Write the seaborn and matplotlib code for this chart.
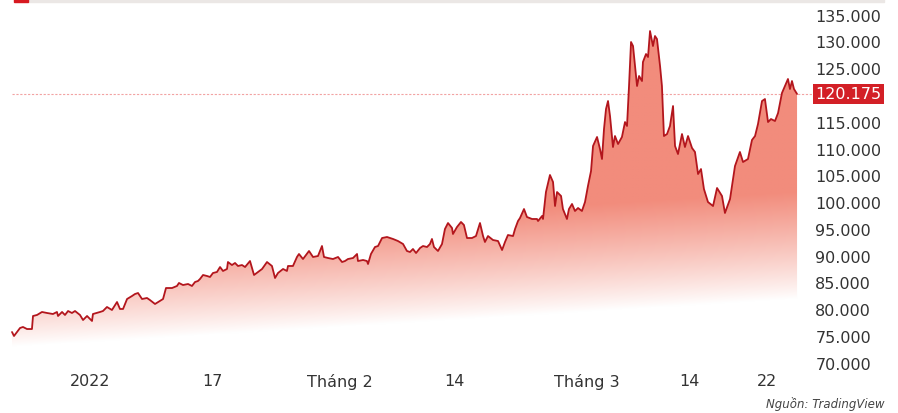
import numpy as np
import matplotlib.pyplot as plt
import seaborn as sns
from matplotlib.patches import Rectangle

# ----------------------------
# DATA
# t = trading sessions counted from 3 Jan 2022
# ----------------------------
t = [-6.61, -6.44, -5.93, -5.68, -5.34, -4.92, -4.83, -4.49, -4.07, -3.64,
     -3.14, -2.80, -2.71, -2.37, -2.12, -1.86, -1.53, -1.27, -0.85, -0.59,
     -0.25, 0.17, 0.25, 0.85, 1.10, 1.44, 1.86, 2.29, 2.54, 2.80,
     3.14, 3.56, 3.81, 4.07, 4.41, 4.83, 5.08, 5.51, 5.93, 6.19,
     6.44, 6.95, 7.37, 7.54, 7.88, 8.31, 8.64, 8.90, 9.15, 9.32,
     9.58, 9.92, 10.17, 10.42, 10.76, 11.02, 11.27, 11.61, 11.69, 12.03,
     12.29, 12.54, 12.88, 13.14, 13.56, 13.90, 14.24, 14.58, 15.00, 15.42,
     15.68, 15.93, 16.36, 16.69, 16.78, 17.20, 17.54, 17.71, 18.05, 18.56,
     18.90, 19.32, 19.66, 19.83, 20.17, 20.59, 21.02, 21.36, 21.61, 21.86,
     22.29, 22.63, 22.71, 23.14, 23.47, 23.56, 23.81, 24.15, 24.41, 24.75,
     25.17, 25.42, 25.68, 26.10, 26.53, 26.86, 27.12, 27.37, 27.63, 27.97,
     28.22, 28.56, 28.81, 28.98, 29.15, 29.49, 29.83, 30.08, 30.34, 30.68,
     30.76, 31.10, 31.44, 31.69, 31.95, 32.37, 32.71, 33.05, 33.31, 33.47,
     33.73, 34.15, 34.58, 34.92, 35.17, 35.42, 35.85, 36.02, 36.27, 36.44,
     36.78, 37.03, 37.46, 37.88, 37.97, 38.31, 38.39, 38.64, 38.98, 39.24,
     39.41, 39.58, 39.92, 40.08, 40.42, 40.59, 40.85, 41.10, 41.36, 41.69,
     41.95, 42.20, 42.46, 42.63, 42.97, 43.22, 43.39, 43.56, 43.73, 43.90,
     44.07, 44.32, 44.49, 44.75, 45.08, 45.34, 45.51, 45.68, 45.85, 46.02,
     46.19, 46.36, 46.53, 46.78, 46.86, 47.12, 47.29, 47.46, 47.71, 47.88,
     48.05, 48.31, 48.47, 48.64, 48.90, 49.15, 49.41, 49.58, 49.83, 50.17,
     50.42, 50.68, 51.02, 51.27, 51.53, 51.78, 52.03, 52.37, 52.80, 53.14,
     53.56, 53.81, 54.24, 54.66, 55.08, 55.34, 55.76, 56.10, 56.36, 56.61,
     56.95, 57.20, 57.46, 57.71, 58.05, 58.31, 58.64, 58.90, 59.15, 59.32,
     59.49, 59.66, 59.92]

price = [75.76, 75.02, 76.51, 76.70, 76.32, 76.32, 78.75, 78.94, 79.50, 79.31,
         79.12, 79.50, 78.75, 79.50, 78.94, 79.68, 79.31, 79.68, 78.94, 78.00,
         78.75, 77.82, 79.12, 79.50, 79.68, 80.43, 79.87, 81.36, 80.06, 80.06,
         81.92, 82.48, 82.85, 83.04, 81.92, 82.11, 81.73, 80.99, 81.55, 81.92,
         83.97, 83.97, 84.35, 84.91, 84.53, 84.72, 84.35, 85.09, 85.28, 85.65,
         86.40, 86.21, 86.03, 86.77, 86.96, 87.89, 87.15, 87.52, 88.82, 88.26,
         88.64, 88.08, 88.26, 87.89, 89.01, 86.40, 86.96, 87.52, 88.82, 88.08,
         85.84, 86.77, 87.52, 87.15, 88.08, 88.08, 89.76, 90.32, 89.38, 90.88,
         89.76, 89.94, 91.81, 89.76, 89.57, 89.38, 89.76, 88.82, 89.01, 89.38,
         89.57, 90.32, 89.01, 89.20, 89.01, 88.45, 90.32, 91.62, 91.81, 93.30,
         93.49, 93.30, 93.12, 92.74, 92.18, 90.88, 90.69, 91.25, 90.50, 91.44,
         91.81, 91.62, 92.18, 93.12, 91.62, 90.88, 92.18, 94.98, 96.10, 95.17,
         94.05, 95.35, 96.29, 95.73, 93.30, 93.30, 93.67, 96.10, 93.67, 92.56,
         93.67, 92.93, 92.74, 91.06, 92.56, 93.86, 93.67, 94.98, 96.47, 97.03,
         98.71, 97.22, 96.85, 96.85, 96.47, 97.41, 96.85, 101.88, 105.06, 103.75,
         99.27, 101.88, 101.14, 98.71, 96.85, 98.71, 99.65, 98.34, 98.90, 98.34,
         100.02, 103.00, 105.80, 110.47, 112.15, 109.91, 108.04, 113.64, 117.37, 118.86,
         116.06, 110.28, 112.33, 110.84, 112.15, 114.94, 114.20, 121.66, 129.87, 129.12,
         125.39, 121.66, 123.53, 122.59, 126.14, 127.63, 127.07, 131.92, 129.12, 130.99,
         130.43, 125.39, 121.66, 112.33, 112.70, 114.20, 117.93, 110.47, 108.97, 112.70,
         110.28, 112.33, 110.09, 109.35, 105.24, 106.17, 102.44, 100.02, 99.27, 102.63,
         101.14, 97.97, 100.58, 106.73, 109.35, 107.48, 108.04, 111.59, 112.33, 114.57,
         118.86, 119.23, 114.94, 115.50, 115.13, 116.62, 120.35, 121.66, 122.97, 121.10,
         122.59, 121.10, 120.175]

last_price = 120.175
y_ticks = [70, 75, 80, 85, 90, 95, 100, 105, 110, 115, 125, 130, 135]
x_tick_pos = [0, 10.4, 21.2, 30.9, 42.1, 50.8, 57.4]
x_tick_labels = ["2022", "17", "Tháng 2", "14", "Tháng 3", "14", "22"]

# ----------------------------
# STYLE
# ----------------------------
sns.set_style("white")
plt.rcParams["font.family"] = ["DejaVu Sans"]

fig = plt.figure(figsize=(8.98, 4.14), dpi=100)
ax = fig.add_axes([10 / 898, 44 / 414, 790 / 898, 360 / 414])

x0, x1 = -6.78, 60.17
y0, y1 = 68.86, 136.03
ax.set_xlim(x0, x1)
ax.set_ylim(y0, y1)

# gradient fill under the line (fades out towards a slanted bottom edge)
gx = np.linspace(x0, x1, 800)
gy = np.linspace(y0, y1, 400)
X, Y = np.meshgrid(gx, gy)
fade = 73 + (X - x0) * 9 / (x1 - x0)
a = np.clip((Y - fade) / 20, 0, 1) ** 0.9
top = np.array([242, 140, 124]) / 255
img = 1 - a[..., None] * (1 - top)
im = ax.imshow(img, extent=[x0, x1, y0, y1], origin="lower", aspect="auto",
               zorder=1, interpolation="bilinear")
poly = ax.fill_between(t, price, y0, facecolor="none", edgecolor="none")
im.set_clip_path(poly.get_paths()[0], transform=ax.transData)

# price line
sns.lineplot(x=t, y=price, ax=ax, color="#b3161d", linewidth=1.3, zorder=3)

# last price marker line + label
ax.axhline(last_price, xmin=0.002, xmax=1.015, color="#f2a3a3", lw=0.8,
           ls=(0, (2, 1.5)), clip_on=False, zorder=0.5)
ax.text(1.019, last_price, f"{last_price:.3f}", transform=ax.get_yaxis_transform(),
        ha="left", va="center", color="white", fontsize=11.5,
        bbox=dict(boxstyle="square,pad=0.15", fc="#d31f26", ec="none"))

# axes
ax.yaxis.tick_right()
ax.set_yticks(y_ticks)
ax.set_yticklabels([f"{v:.3f}" for v in y_ticks])
ax.set_xticks(x_tick_pos)
ax.set_xticklabels(x_tick_labels)
ax.tick_params(axis="y", length=0, pad=11, labelsize=11.5, labelcolor="#333333")
ax.tick_params(axis="x", length=0, pad=3, labelsize=11.5, labelcolor="#333333")
ax.set_xlabel("")
ax.set_ylabel("")
for s in ax.spines.values():
    s.set_visible(False)

# header strip + source
fig.patches.append(Rectangle((28 / 898, 1 - 3 / 414), 856 / 898, 3 / 414,
                             transform=fig.transFigure, color="#ebe7e5"))
fig.patches.append(Rectangle((14 / 898, 1 - 3 / 414), 14 / 898, 3 / 414,
                             transform=fig.transFigure, color="#d71920"))
fig.text(884 / 898, 1 - 404 / 414, "Nguồn: TradingView", ha="right", va="center",
         style="italic", fontsize=8.5, color="#444444")

fig.savefig("out.png", dpi=100)
